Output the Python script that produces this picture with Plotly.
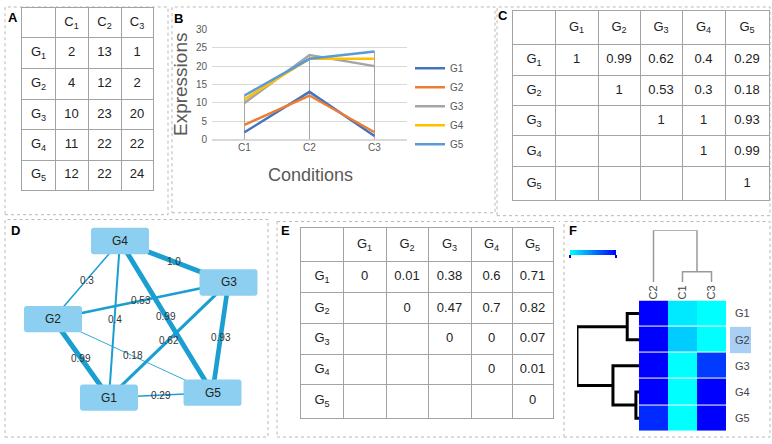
import plotly.graph_objects as go

W, H = 772, 444

# ---------------- data ----------------
genes = ["G1", "G2", "G3", "G4", "G5"]
conditions = ["C1", "C2", "C3"]
expr_G1 = [2, 13, 1]
expr_G2 = [4, 12, 2]
expr_G3 = [10, 23, 20]
expr_G4 = [11, 22, 22]
expr_G5 = [12, 22, 24]

corr_G1 = [1, 0.99, 0.62, 0.4, 0.29]
corr_G2 = [None, 1, 0.53, 0.3, 0.18]
corr_G3 = [None, None, 1, 1, 0.93]
corr_G4 = [None, None, None, 1, 0.99]
corr_G5 = [None, None, None, None, 1]

# clustering
col_order = ["C2", "C1", "C3"]
col_merges = [("C1", "C3", 0.2), ("C2", "C1+C3", 1.0)]
row_merges = [("G4", "G5", 0.05), ("G1", "G2", 0.19), ("G3", "G4+G5", 0.42), ("G1+G2", "G3+G4+G5", 1.0)]

expr = [expr_G1, expr_G2, expr_G3, expr_G4, expr_G5]
corr = [corr_G1, corr_G2, corr_G3, corr_G4, corr_G5]

# ---------------- styles ----------------
line_colors = ["#4472C4", "#ED7D31", "#A5A5A5", "#FFC000", "#5B9BD5"]
FONT = "Liberation Sans, Arial, sans-serif"
TXT = "#222222"
GRID = "#a3a3a3"

def px(x):
    return x / W

def py(y):
    return 1 - y / H

fig = go.Figure()
shapes = []
annotations = []
axes = {}

# ---------------- tables (text on gridded axes) ----------------
def sub(s):
    return s[0] + "<sub>" + s[1:] + "</sub>"

def fmt(v):
    if v is None:
        return ""
    return f"{v:g}"

def add_table(n, x0, y0, col_b, row_b, rows):
    xs, ys, ts = [], [], []
    for r, row in enumerate(rows):
        for c, t in enumerate(row):
            if t:
                xs.append((col_b[c] + col_b[c + 1]) / 2)
                ys.append((row_b[r] + row_b[r + 1]) / 2)
                ts.append(t)
    fig.add_trace(go.Scatter(x=xs, y=ys, text=ts, mode="text", showlegend=False, hoverinfo="skip",
                             textfont=dict(family=FONT, size=13, color=TXT),
                             xaxis=f"x{n}", yaxis=f"y{n}"))
    common = dict(showgrid=True, gridcolor=GRID, gridwidth=1, zeroline=False, showline=True,
                  mirror=True, linecolor=GRID, linewidth=1, showticklabels=False, ticks="", fixedrange=True)
    axes[f"xaxis{n}"] = dict(domain=[px(x0), px(x0 + col_b[-1])], anchor=f"y{n}",
                             range=[0, col_b[-1]], tickvals=col_b, **common)
    axes[f"yaxis{n}"] = dict(domain=[py(y0 + row_b[-1]), py(y0)], anchor=f"x{n}",
                             range=[row_b[-1], 0], tickvals=row_b, **common)

# Table A: expression values
rowsA = [[""] + [sub(c) for c in conditions]]
for g, vals in zip(genes, expr):
    rowsA.append([sub(g)] + [fmt(v) for v in vals])
add_table(6, 22, 2, [0, 33, 66, 99, 131], [0, 30, 62, 94, 125, 156, 187], rowsA)

# Table C: correlations
rowsC = [[""] + [sub(g) for g in genes]]
for g, vals in zip(genes, corr):
    rowsC.append([sub(g)] + [fmt(v) for v in vals])
add_table(7, 513, 5, [0, 42, 85, 127, 169, 212, 256], [0, 34, 66, 97, 128, 160, 194], rowsC)

# Table E: distance = 1 - correlation
rowsE = [[""] + [sub(g) for g in genes]]
for g, vals in zip(genes, corr):
    rowsE.append([sub(g)] + [fmt(None if v is None else round(1 - v, 2)) for v in vals])
add_table(8, 301, 228, [0, 42, 85, 127, 170, 211, 252], [0, 34, 66, 98, 129, 160, 194], rowsE)

# ---------------- panel B: line chart ----------------
drop_x, drop_y = [], []
for j, c in enumerate(conditions):
    drop_x += [c, c, None]
    drop_y += [0, max(row[j] for row in expr), None]
fig.add_trace(go.Scatter(x=drop_x, y=drop_y, mode="lines", line=dict(color="#a6a6a6", width=1),
                         showlegend=False, hoverinfo="skip", xaxis="x", yaxis="y"))
for g, vals, col in zip(genes, expr, line_colors):
    fig.add_trace(go.Scatter(x=conditions, y=vals, mode="lines", name=g,
                             line=dict(color=col, width=2.5), xaxis="x", yaxis="y"))

# ---------------- panel D: network ----------------
node_pos = {"G1": (109, 401.5), "G2": (53, 321), "G3": (228.5, 283.5), "G4": (120, 241), "G5": (212.5, 396.5)}
node_w, node_h = 58, 27
for i in range(5):
    for j in range(i + 1, 5):
        w = corr[i][j]
        (xa, ya), (xb, yb) = node_pos[genes[i]], node_pos[genes[j]]
        fig.add_trace(go.Scatter(x=[xa, xb], y=[ya, yb], mode="lines",
                                 line=dict(color="#1a9fd0", width=max(0.8, 5 * w)),
                                 showlegend=False, hoverinfo="skip", xaxis="x2", yaxis="y2"))
        lab = "1.0" if w == 1 else f"{w:g}"
        annotations.append(dict(x=(xa + xb) / 2, y=(ya + yb) / 2, xref="x2", yref="y2", text=lab,
                                xanchor="center", yanchor="middle",
                                showarrow=False, font=dict(family=FONT, size=10, color="#333")))
for g, (cx, cy) in node_pos.items():
    x0, x1, y0, y1, r = cx - node_w / 2, cx + node_w / 2, cy - node_h / 2, cy + node_h / 2, 3
    path = (f"M {x0 + r},{y0} L {x1 - r},{y0} Q {x1},{y0} {x1},{y0 + r} L {x1},{y1 - r} "
            f"Q {x1},{y1} {x1 - r},{y1} L {x0 + r},{y1} Q {x0},{y1} {x0},{y1 - r} "
            f"L {x0},{y0 + r} Q {x0},{y0} {x0 + r},{y0} Z")
    shapes.append(dict(type="path", path=path, xref="x2", yref="y2", fillcolor="#8ccff0",
                       line=dict(width=0), layer="above"))
    annotations.append(dict(x=cx, y=cy, xref="x2", yref="y2", text=g, showarrow=False,
                            xanchor="center", yanchor="middle",
                            font=dict(family=FONT, size=12, color=TXT)))

# ---------------- panel F: clustered heatmap ----------------
col_idx = [conditions.index(c) for c in col_order]
z = []
for row in expr:
    lo, hi = min(row), max(row)
    z.append([(row[j] - lo) / (hi - lo) for j in col_idx])
fig.add_trace(go.Heatmap(
    z=z, x=list(range(3)), y=list(range(5)), zmin=0, zmax=1, ygap=1,
    colorscale=[[0, "#00ffff"], [1, "#0000ff"]], xaxis="x3", yaxis="y3", hoverinfo="skip",
    colorbar=dict(orientation="h", lenmode="pixels", len=46, thickness=5,
                  x=px(593), xanchor="center", y=py(250), yanchor="top", xpad=0, ypad=0,
                  outlinewidth=0, ticks="outside", ticklen=3, tickwidth=2, tickcolor="#0000cc",
                  tickvals=[0, 1], showticklabels=False),
))

def dendro(leaves, merges):
    pos = {l: float(i) for i, l in enumerate(leaves)}
    hgt = {l: 0.0 for l in leaves}
    segs_p, segs_h = [], []
    for a, b, h in merges:
        pa, pb = pos[a], pos[b]
        segs_p += [pa, pa, pb, pb, None]
        segs_h += [hgt[a], h, h, hgt[b], None]
        key = a + "+" + b
        pos[key] = (pa + pb) / 2
        hgt[key] = h
    return segs_p, segs_h

cp, ch = dendro(col_order, col_merges)
fig.add_trace(go.Scatter(x=cp, y=ch, mode="lines", line=dict(color="#999999", width=1.5),
                         showlegend=False, hoverinfo="skip", xaxis="x3", yaxis="y4"))
rp, rh = dendro(genes, row_merges)
fig.add_trace(go.Scatter(x=rh, y=rp, mode="lines", line=dict(color="black", width=3),
                         showlegend=False, hoverinfo="skip", xaxis="x5", yaxis="y3"))

# highlight box behind G2 label
shapes.append(dict(type="rect", xref="paper", yref="paper", x0=px(730), x1=px(751), y0=py(356), y1=py(329),
                   fillcolor="#a9cff5", line=dict(width=0), layer="below"))

# ---------------- frames & panel letters ----------------
frames = [(5, 1, 168, 214), (172, 1, 495, 212), (497, 1, 770, 215),
          (5, 219, 268, 442), (564, 221, 770, 442)]
for x0, y0, x1, y1 in frames:
    shapes.append(dict(type="rect", xref="paper", yref="paper", x0=px(x0), x1=px(x1), y0=py(y1), y1=py(y0),
                       line=dict(color="#b8b8b8", width=1, dash="dot"), layer="below"))
for (xa, ya, xb, yb) in [(277, 221, 560, 221), (277, 221, 277, 442), (277, 442, 560, 442)]:
    shapes.append(dict(type="line", xref="paper", yref="paper", x0=px(xa), x1=px(xb), y0=py(ya), y1=py(yb),
                       line=dict(color="#b8b8b8", width=1, dash="dot"), layer="below"))

for lab, x, y in [("A", 13, 12), ("B", 178, 13), ("C", 503, 10), ("D", 15, 230), ("E", 285, 230), ("F", 573, 230)]:
    annotations.append(dict(x=px(x), y=py(y), xref="paper", yref="paper", text=f"<b>{lab}</b>",
                            xanchor="center", yanchor="middle",
                            showarrow=False, font=dict(family=FONT, size=13, color="black")))

annotations.append(dict(x=px(180), y=py(80), xref="paper", yref="paper", text="Expressions", textangle=-90,
                        xanchor="center", yanchor="middle",
                        showarrow=False, font=dict(family=FONT, size=19, color="#595959")))
annotations.append(dict(x=px(310), y=py(173), xref="paper", yref="paper", text="Conditions",
                        xanchor="center", yanchor="middle",
                        showarrow=False, font=dict(family=FONT, size=18, color="#595959")))

fig.update_layout(
    width=W, height=H, margin=dict(l=0, r=0, t=0, b=0),
    paper_bgcolor="white", plot_bgcolor="rgba(0,0,0,0)",
    font=dict(family=FONT, color=TXT),
    shapes=shapes, annotations=annotations,
    showlegend=True,
    legend=dict(x=px(410), y=py(49), xanchor="left", yanchor="top", itemwidth=30,
                font=dict(family=FONT, size=10, color="#595959"), bgcolor="rgba(0,0,0,0)",
                tracegroupgap=0),
    xaxis=dict(domain=[px(212), px(407)], anchor="y", range=[-0.5, 2.5], type="category",
               showgrid=False, zeroline=False, showline=False, ticks="",
               tickfont=dict(family=FONT, size=10, color="#595959")),
    yaxis=dict(domain=[py(137), py(24)], anchor="x", range=[0, 30], dtick=5,
               showgrid=True, gridcolor="#d9d9d9", zeroline=True, zerolinecolor="#d9d9d9",
               showline=False, ticks="", ticklabelstandoff=4,
               tickfont=dict(family=FONT, size=10, color="#595959")),
    xaxis2=dict(domain=[0, 1], anchor="y2", range=[0, W], visible=False),
    yaxis2=dict(domain=[0, 1], anchor="x2", range=[H, 0], visible=False),
    xaxis3=dict(domain=[px(639), px(726)], anchor="y3", range=[-0.5, 2.5], side="top",
                tickvals=list(range(3)), ticktext=col_order, tickangle=-90, ticks="",
                showgrid=False, zeroline=False, showline=False,
                tickfont=dict(family=FONT, size=11, color="#444")),
    yaxis3=dict(domain=[py(436), py(302)], anchor="x3", range=[4.5, -0.5], side="right",
                tickvals=list(range(5)), ticktext=genes, ticks="", ticklabelstandoff=8,
                showgrid=False, zeroline=False, showline=False,
                tickfont=dict(family=FONT, size=11, color="#444")),
    yaxis4=dict(domain=[py(283), py(230)], anchor="x3", range=[0, 1.0], visible=False),
    xaxis5=dict(domain=[px(577), px(639)], anchor="y3", range=[1.0, 0], visible=False),
    **axes,
)

fig.write_html("out.html", config={"displayModeBar": False},
               post_script="document.body.style.margin='0px';document.body.style.overflow='hidden';")
